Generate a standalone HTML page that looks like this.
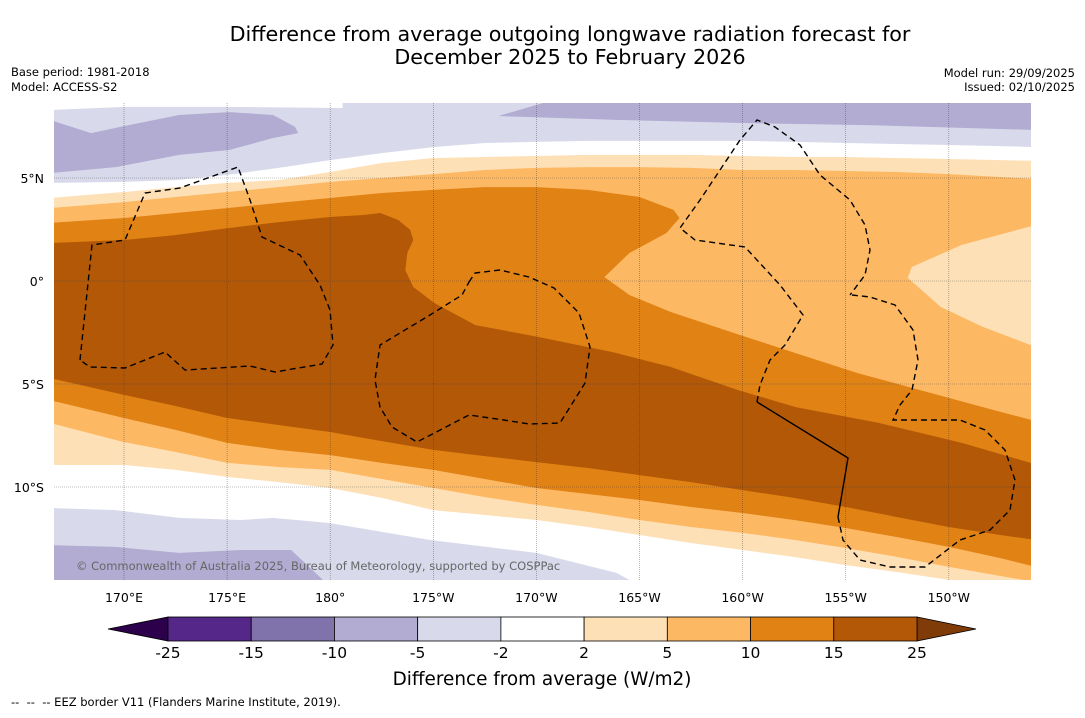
<!DOCTYPE html>
<html><head><meta charset="utf-8">
<style>
html,body{margin:0;padding:0;background:#fff;}
body{width:1085px;height:713px;overflow:hidden;font-family:"Liberation Sans","DejaVu Sans",sans-serif;}
svg text{font-family:"DejaVu Sans","Liberation Sans",sans-serif;}
</style></head>
<body>
<svg id="chart" width="1085" height="713" viewBox="0 0 1085 713" xmlns="http://www.w3.org/2000/svg">
  <rect x="0" y="0" width="1085" height="713" fill="#fff"/>
  <text x="570" y="41" font-size="20.7" text-anchor="middle" fill="#000">Difference from average outgoing longwave radiation forecast for</text>
  <text x="570" y="64" font-size="20.7" text-anchor="middle" fill="#000">December 2025 to February 2026</text>
  <text x="11" y="76" font-size="11.5" fill="#000">Base period: 1981-2018</text>
  <text x="11" y="91" font-size="11.5" fill="#000">Model: ACCESS-S2</text>
  <text x="1075" y="77" font-size="11.5" text-anchor="end" fill="#000">Model run: 29/09/2025</text>
  <text x="1075" y="91" font-size="11.5" text-anchor="end" fill="#000">Issued: 02/10/2025</text>
  <defs><clipPath id="mapclip"><rect x="54" y="103" width="977" height="477"/></clipPath></defs>
  <g id="map" clip-path="url(#mapclip)"></g>
  <g id="axes"></g>
  <g id="cbar"></g>
  <text x="542" y="685" font-size="18.4" text-anchor="middle" fill="#000">Difference from average (W/m2)</text>
  <text x="11" y="706" font-size="11.5" fill="#000" xml:space="preserve">--  --  -- EEZ border V11 (Flanders Marine Institute, 2019).</text>
</svg>
<script>
const NS='http://www.w3.org/2000/svg';
// ---- data ----
const lons=[166.4,170,172.5,175,177.5,180,182.5,185,187.5,190,192.5,195,197.5,200,202.5,205,207.5,210,212.5,214.2];
const whiteTopLat=[4.76,4.81,4.90,5.15,5.49,5.87,6.21,6.50,6.70,6.75,6.80,6.80,6.80,6.80,6.75,6.70,6.65,6.60,6.55,6.50];
const p25TopLat=[4.03,4.32,4.56,4.76,4.90,5.29,5.73,5.97,6.02,6.07,6.12,6.12,6.12,6.07,6.02,6.02,5.97,5.92,5.87,5.83];
const p510TopLat=[3.54,3.83,4.08,4.32,4.56,4.81,5.00,5.19,5.39,5.49,5.53,5.53,5.49,5.39,5.39,5.34,5.29,5.19,5.05,4.95];
const orangeTopLeftLat=[2.82,3.06,3.30,3.54,3.79,4.03,4.27,4.42,4.56,4.56,4.42,4.08];
const orangeTopRight=[[196.65,3.45],[196.94,3.06],[196.31,2.33],[194.51,1.36],[193.30,0.19],[194.51,-0.68],[196.50,-1.50],[199.56,-2.52],[202.57,-3.50],[205.58,-4.47],[208.59,-5.29],[211.65,-6.12],[214.2,-6.80]];
const brownTop=[[166.4,1.84],[170,1.99],[172.48,2.23],[175.05,2.57],[177.52,2.86],[180.05,3.11],[181.55,3.20],[182.43,3.30],[183.30,2.96],[183.88,2.48],[184.03,1.99],[183.74,1.36],[183.64,0.53],[184.03,-0.29],[185.05,-1.07],[187.04,-2.14],[190.10,-2.72],[193.69,-3.45],[196.50,-4.17],[199.76,-5.29],[202.57,-6.12],[206.60,-6.89],[210.63,-7.86],[214.2,-8.90]];
const brownBotLat=[-4.71,-5.53,-6.07,-6.65,-6.99,-7.33,-7.77,-8.20,-8.50,-8.79,-9.08,-9.42,-9.76,-10.15,-10.53,-10.97,-11.46,-11.94,-12.33,-12.57];
const orangeBotLat=[-5.78,-6.65,-7.23,-7.86,-8.20,-8.45,-8.83,-9.17,-9.61,-10.05,-10.34,-10.63,-10.97,-11.26,-11.60,-11.99,-12.43,-12.91,-13.45,-13.88];
const p510BotLat=[-6.89,-7.82,-8.30,-8.83,-9.03,-9.17,-9.61,-10.05,-10.49,-10.87,-11.21,-11.60,-11.94,-12.23,-12.57,-12.96,-13.40,-13.88,-14.32,-14.61];
const p25BotLat=[-8.93,-8.93,-9.17,-9.51,-9.76,-10.05,-10.53,-11.12,-11.36,-11.60,-11.94,-12.33,-12.72,-13.06,-13.40,-13.79,-14.13,-14.51,-14.8,-14.8];
const purpleSouthTop=[[166.4,-11.02],[169.61,-11.12],[172.67,-11.50],[175.68,-11.60],[177.23,-11.50],[179.95,-11.75],[184.81,-12.57],[190.0,-13.20],[193.88,-14.17],[195.05,-14.8]];
const darkPurpleSouth=[[166.4,-12.82],[169.61,-12.91],[172.67,-13.20],[175.68,-13.06],[178.11,-13.06],[179.95,-14.8],[166.4,-14.8]];
const darkPurpleNW=[[166.4,7.82],[168.40,7.18],[170.24,7.57],[172.67,8.06],[175.10,8.20],[177.23,8.06],[178.30,7.48],[178.45,7.18],[177.23,6.94],[175.10,6.36],[172.67,6.12],[169.61,5.53],[166.4,5.24]];
const darkPurpleNE=[[188.16,8.01],[190.87,8.8],[214.2,8.8],[214.2,7.33],[206.02,7.57],[199.95,7.67],[193.88,7.82]];
const whitePatchNW=[[166.4,8.8],[180.6,8.8],[180.6,8.4],[175,8.45],[170,8.45],[166.4,8.3]];
const palePatchEast=[[214.2,2.72],[210.63,1.75],[208.20,0.68],[208.01,0.15],[209.61,-1.26],[211.65,-2.23],[214.2,-3.20]];
const lonTicks=[170,175,180,185,190,195,200,205,210];
const lonTickLabels=['170°E','175°E','180°','175°W','170°W','165°W','160°W','155°W','150°W'];
const latTicks=[5,0,-5,-10];
const latTickLabels=['5°N','0°','5°S','10°S'];
const cbLevels=['-25','-15','-10','-5','-2','2','5','10','15','25'];
const cbColors=['#542788','#8073ac','#b2abd2','#d8daeb','#ffffff','#fee0b6','#fdb863','#e08214','#b35806'];
// ---- scales ----
const X=lon=>124+(lon-170)*20.62;
const Y=lat=>281-lat*20.6;
const cols=arr=>lons.slice(0,arr.length).map((lo,i)=>[lo,arr[i]]);
const pathOf=pts=>'M'+pts.map(p=>X(p[0]).toFixed(1)+','+Y(p[1]).toFixed(1)).join('L')+'Z';
const map=document.getElementById('map');
function poly(pts,fill,name){
  const p=document.createElementNS(NS,'path');
  p.setAttribute('d',pathOf(pts));p.setAttribute('fill',fill);
  
  
  map.appendChild(p);
}
const bg=document.createElementNS(NS,'rect');
bg.setAttribute('x',54);bg.setAttribute('y',103);bg.setAttribute('width',977);bg.setAttribute('height',477);bg.setAttribute('fill','#d8daeb');


map.appendChild(bg);
poly(whitePatchNW,'#ffffff','anomaly-neutral-nw-patch');
poly(cols(whiteTopLat).concat([[214.2,-14.8]]).concat(purpleSouthTop.slice().reverse()),'#ffffff','anomaly-neutral-band');
poly(cols(p25TopLat).concat(cols(p25BotLat).reverse()),'#fee0b6','anomaly-2-5-band');
poly(cols(p510TopLat).concat(cols(p510BotLat).reverse()),'#fdb863','anomaly-5-10-band');
poly(cols(orangeTopLeftLat).concat(orangeTopRight).concat(cols(orangeBotLat).reverse()),'#e08214','anomaly-10-15-band');
poly(brownTop.concat(cols(brownBotLat).reverse()),'#b35806','anomaly-15-25-band');
poly(palePatchEast,'#fee0b6','anomaly-2-5-east-patch');
poly(darkPurpleNW,'#b2abd2','anomaly-minus10-nw-patch');
poly(darkPurpleNE,'#b2abd2','anomaly-minus10-ne-patch');
poly(darkPurpleSouth,'#b2abd2','anomaly-minus10-south-patch');
// gridlines
lonTicks.forEach(lo=>{
  const l=document.createElementNS(NS,'line');
  l.setAttribute('x1',X(lo));l.setAttribute('x2',X(lo));l.setAttribute('y1',103);l.setAttribute('y2',580);
  l.setAttribute('stroke','#333');l.setAttribute('stroke-width','0.6');l.setAttribute('stroke-dasharray','1,1');l.setAttribute('opacity','0.6');
  
  
  map.appendChild(l);
});
latTicks.forEach(la=>{
  const l=document.createElementNS(NS,'line');
  l.setAttribute('x1',54);l.setAttribute('x2',1031);l.setAttribute('y1',Y(la));l.setAttribute('y2',Y(la));
  l.setAttribute('stroke','#333');l.setAttribute('stroke-width','0.6');l.setAttribute('stroke-dasharray','1,1');l.setAttribute('opacity','0.6');
  
  
  map.appendChild(l);
});
// EEZ borders (geographic outlines)
const eez=[
 {d:'M80,360 L92,245 L125,240 L145,193 L180,188 L238,167 L250,200 L262,237 L300,255 L320,285 L330,310 L333,345 L322,364 L275,372 L250,366 L185,370 L165,352 L125,368 L90,367 Z',dash:'6,4'},
 {d:'M469,282 L475,273 L500,270 L529,277 L554,288 L579,313 L590,347 L585,383 L560,423 L529,424 L504,420 L469,415 L417,442 L392,427 L380,407 L375,380 L380,345 L430,315 L462,295 Z',dash:'6,4'},
 {d:'M757,402 L760,385 L770,360 L785,345 L803,315 L780,285 L745,247 L695,240 L680,228 L700,200 L720,170 L740,140 L757,120 L775,127 L800,145 L820,175 L850,200 L865,225 L870,250 L865,275 L850,295',dash:'6,4'},
 {d:'M757,402 L848,458 L838,517',dash:'none'},
 {d:'M838,517 L843,540 L860,560 L890,567 L925,567 L960,540 L990,530 L1010,510 L1015,480 L1005,450 L985,430 L960,420 L920,420 L893,420 L900,405 L912,390 L918,360 L913,330 L895,305 L870,297 L852,295',dash:'6,4'}
];
eez.forEach(e=>{
  const p=document.createElementNS(NS,'path');
  p.setAttribute('d',e.d);p.setAttribute('fill','none');p.setAttribute('stroke','#000');p.setAttribute('stroke-width','1.4');
  if(e.dash!=='none')p.setAttribute('stroke-dasharray',e.dash);
  
  
  map.appendChild(p);
});
const cr=document.createElementNS(NS,'text');
cr.setAttribute('x',76);cr.setAttribute('y',570);cr.setAttribute('font-size','11.5');cr.setAttribute('fill','#666');
cr.setAttribute('font-family','"DejaVu Sans Condensed","DejaVu Sans",sans-serif');
cr.textContent='© Commonwealth of Australia 2025, Bureau of Meteorology, supported by COSPPac';


map.appendChild(cr);
// axes labels
const axes=document.getElementById('axes');
lonTicks.forEach((lo,i)=>{
  const t=document.createElementNS(NS,'text');
  t.setAttribute('x',X(lo));t.setAttribute('y',602);t.setAttribute('font-size','12.5');t.setAttribute('text-anchor','middle');
  t.textContent=lonTickLabels[i];
  
  
  axes.appendChild(t);
});
latTicks.forEach((la,i)=>{
  const t=document.createElementNS(NS,'text');
  t.setAttribute('x',44);t.setAttribute('y',Y(la)+5);t.setAttribute('font-size','12.5');t.setAttribute('text-anchor','end');
  t.textContent=latTickLabels[i];
  
  
  axes.appendChild(t);
});
// colorbar
const cb=document.getElementById('cbar');
const cbX0=168,cbX1=917,cbY=617,cbH=24,n=cbColors.length,w=(cbX1-cbX0)/n;
const tl=document.createElementNS(NS,'polygon');
tl.setAttribute('points',`108,${cbY+cbH/2} ${cbX0},${cbY} ${cbX0},${cbY+cbH}`);tl.setAttribute('fill','#2d004b');tl.setAttribute('stroke','#000');tl.setAttribute('stroke-width','0.8');


cb.appendChild(tl);
const tr=document.createElementNS(NS,'polygon');
tr.setAttribute('points',`976,${cbY+cbH/2} ${cbX1},${cbY} ${cbX1},${cbY+cbH}`);tr.setAttribute('fill','#7f3b08');tr.setAttribute('stroke','#000');tr.setAttribute('stroke-width','0.8');


cb.appendChild(tr);
cbColors.forEach((c,i)=>{
  const r=document.createElementNS(NS,'rect');
  r.setAttribute('x',cbX0+i*w);r.setAttribute('y',cbY);r.setAttribute('width',w);r.setAttribute('height',cbH);
  r.setAttribute('fill',c);r.setAttribute('stroke','#000');r.setAttribute('stroke-width','0.8');
  
  
  cb.appendChild(r);
});
cbLevels.forEach((lv,i)=>{
  const t=document.createElementNS(NS,'text');
  t.setAttribute('x',cbX0+i*w);t.setAttribute('y',658);t.setAttribute('font-size','15.5');t.setAttribute('text-anchor','middle');
  t.textContent=lv;
  
  
  cb.appendChild(t);
});
</script>
</body></html>
